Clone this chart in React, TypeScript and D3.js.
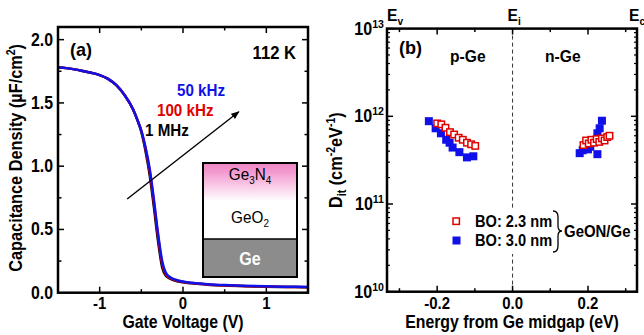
import * as d3 from "d3";

// ---- panel (a): C-V curves at 112 K ----
const voltage = [-1.5, -1.4, -1.3, -1.2, -1.1, -1.0, -0.9, -0.8, -0.7, -0.6, -0.55, -0.5, -0.45, -0.4, -0.35, -0.3, -0.25, -0.2, -0.15, -0.1, -0.05, 0, 0.1, 0.2, 0.3, 0.5, 0.7, 1.0, 1.25, 1.5];
const cap50k = [1.78, 1.775, 1.765, 1.752, 1.738, 1.72, 1.69, 1.64, 1.56, 1.45, 1.37, 1.28, 1.15, 0.98, 0.74, 0.47, 0.25, 0.15, 0.12, 0.105, 0.095, 0.088, 0.078, 0.072, 0.067, 0.06, 0.055, 0.05, 0.047, 0.045];
const cap100k = [1.78, 1.775, 1.765, 1.752, 1.738, 1.72, 1.69, 1.64, 1.56, 1.45, 1.37, 1.28, 1.14, 0.96, 0.72, 0.45, 0.23, 0.14, 0.115, 0.1, 0.092, 0.085, 0.076, 0.07, 0.065, 0.058, 0.053, 0.049, 0.046, 0.044];
const cap1M = [1.78, 1.775, 1.765, 1.752, 1.738, 1.72, 1.69, 1.64, 1.56, 1.45, 1.37, 1.27, 1.12, 0.93, 0.68, 0.41, 0.2, 0.13, 0.11, 0.096, 0.088, 0.082, 0.074, 0.068, 0.063, 0.057, 0.052, 0.048, 0.045, 0.043];
const capTicks = [0, 0.5, 1.0, 1.5, 2.0];
const voltTicks = [-1, 0, 1];

// ---- panel (b): Dit vs energy ----
const eRed = [-0.2, -0.189, -0.178, -0.166, -0.155, -0.143, -0.132, -0.121, -0.11, -0.099, 0.188, 0.195, 0.202, 0.209, 0.216, 0.223, 0.23, 0.237, 0.244, 0.251, 0.257];
const ditRed = [8.3e11, 8.1e11, 7.4e11, 6.6e11, 6.2e11, 5.7e11, 5.4e11, 5.0e11, 4.8e11, 4.6e11, 4.7e11, 5.3e11, 4.9e11, 5.4e11, 5.0e11, 5.5e11, 5.1e11, 5.6e11, 5.3e11, 5.8e11, 6.0e11];
const eBlue = [-0.222, -0.204, -0.19, -0.176, -0.167, -0.159, -0.141, -0.121, -0.104, 0.178, 0.186, 0.193, 0.206, 0.215, 0.225, 0.231, 0.237, 0.225, 0.2];
const ditBlue = [8.8e11, 7.3e11, 6.4e11, 5.4e11, 5.0e11, 4.4e11, 3.9e11, 3.4e11, 3.5e11, 3.8e11, 4.1e11, 4.3e11, 4.5e11, 5.3e11, 6.4e11, 7.3e11, 8.9e11, 3.7e11, 4.2e11];
const energyTicks = [-0.2, 0.0, 0.2];
const ditDecades = [1e10, 1e11, 1e12, 1e13];

const FONT = "'Liberation Sans', Arial, sans-serif";
const BLUE = "#1010e8";
const RED = "#e00000";

// the original's lettering is a narrow, tall sans: squeeze it horizontally
function T({ x, y, size, sx = 0.88, anchor = "start", rotate = 0, fill = "#000", weight = "bold", children }: any) {
  const rot = rotate ? ` rotate(${rotate})` : "";
  return (
    <text transform={`translate(${x},${y})${rot} scale(${sx},1)`} fontSize={size} textAnchor={anchor} fill={fill} fontWeight={weight}>
      {children}
    </text>
  );
}

export default function App() {
  // panel (a) scales
  const ax = d3.scaleLinear().domain([-1.5, 1.5]).range([58, 308]);
  const ay = d3.scaleLinear().domain([0, 2.1]).range([292.7, 27]);
  // panel (b) scales
  const bx = d3.scaleLinear().domain([-0.333, 0.33]).range([387, 637]);
  const by = d3.scaleLog().domain([1e10, 1e13]).range([291.7, 28.6]);

  const line = d3
    .line<number>()
    .x((_, i) => ax(voltage[i]))
    .y((d) => ay(d))
    .curve(d3.curveMonotoneX);

  const [aL, aR] = ax.range();
  const [aB, aT] = ay.range();
  const [bL, bR] = bx.range();
  const [bB, bT] = by.range();

  const aMinorX = d3.range(-1.5, 1.51, 0.5);
  const aMinorY = d3.range(0.25, 2.1, 0.25);
  const bMinorX = d3.range(-0.3, 0.31, 0.1);
  const bMinorY: number[] = [];
  [1e10, 1e11, 1e12].forEach((d) => {
    for (let k = 2; k <= 9; k++) bMinorY.push(d * k);
  });

  return (
    <svg width={644} height={335} style={{ position: "absolute", left: 0, top: 0 }} fontFamily={FONT} fontWeight="bold">
      <defs>
        <linearGradient id="pinkfade" x1="0" y1="0" x2="0" y2="1">
          <stop offset="0" stopColor="#ee86c4" />
          <stop offset="0.12" stopColor="#f39ad0" />
          <stop offset="0.5" stopColor="#ffffff" />
          <stop offset="1" stopColor="#ffffff" />
        </linearGradient>
        <marker id="arrowhead" viewBox="0 0 10 10" refX="9" refY="5" markerWidth="6" markerHeight="6" orient="auto">
          <path d="M0,1 L10,5 L0,9 Z" fill="#000" />
        </marker>
      </defs>

      {/* ================= panel (a) ================= */}
      {aMinorX.map((v) => {
        const major = voltTicks.some((t) => Math.abs(t - v) < 1e-6);
        const len = major ? 6 : 3.5;
        return (
          <g key={"ax" + v} stroke="#000" strokeWidth={1.5}>
            <line x1={ax(v)} x2={ax(v)} y1={aB} y2={aB - len} />
            <line x1={ax(v)} x2={ax(v)} y1={aT} y2={aT + len} />
          </g>
        );
      })}
      {aMinorY.map((v) => {
        const major = capTicks.some((t) => Math.abs(t - v) < 1e-6);
        const len = major ? 6 : 3.5;
        return (
          <g key={"ay" + v} stroke="#000" strokeWidth={1.5}>
            <line x1={aL} x2={aL + len} y1={ay(v)} y2={ay(v)} />
            <line x1={aR} x2={aR - len} y1={ay(v)} y2={ay(v)} />
          </g>
        );
      })}
      {voltTicks.map((t) => (
        <T key={"vt" + t} x={ax(t)} y={309} size={17} anchor="middle">
          {t}
        </T>
      ))}
      {capTicks.map((t) => (
        <T key={"ct" + t} x={53} y={ay(t) + 6} size={18} anchor="end">
          {t.toFixed(1)}
        </T>
      ))}
      <T x={(aL + aR) / 2} y={328} size={18} anchor="middle">
        Gate Voltage (V)
      </T>
      <T x={22} y={(aT + aB) / 2 - 2} size={18.5} anchor="middle" rotate={-90}>
        Capacitance Density (µF/cm<tspan dy={-7} fontSize={12}>2</tspan>
        <tspan dy={7}>)</tspan>
      </T>

      {/* curves */}
      <path d={line(cap1M) ?? ""} fill="none" stroke="#000" strokeWidth={2.5} />
      <path d={line(cap100k) ?? ""} fill="none" stroke={RED} strokeWidth={2.5} />
      <path d={line(cap50k) ?? ""} fill="none" stroke={BLUE} strokeWidth={2.5} />

      {/* arrow */}
      <line x1={ax(-0.67)} y1={ay(0.74)} x2={ax(0.67)} y2={ay(1.43)} stroke="#000" strokeWidth={1.4} markerEnd="url(#arrowhead)" />

      <T x={177} y={96} size={16.5} sx={0.92} fill={BLUE}>50 kHz</T>
      <T x={157} y={116} size={16.5} sx={0.92} fill={RED}>100 kHz</T>
      <T x={145} y={136} size={16.5} sx={0.92}>1 MHz</T>
      <T x={70} y={56} size={19} sx={0.95}>(a)</T>
      <T x={296} y={59} size={17.5} sx={0.95} anchor="end">112 K</T>

      {/* inset stack */}
      <rect x={203} y={163} width={94} height={76} fill="url(#pinkfade)" />
      <rect x={203} y={239} width={94} height={38} fill="#8c8c8c" />
      <rect x={203} y={163} width={94} height={114} fill="none" stroke="#000" strokeWidth={2} />
      <line x1={203} x2={297} y1={239} y2={239} stroke="#000" strokeWidth={1.5} />
      <T x={250} y={180} size={17} sx={0.9} anchor="middle" weight="normal">
        Ge<tspan dy={4} fontSize={11}>3</tspan>
        <tspan dy={-4}>N</tspan>
        <tspan dy={4} fontSize={11}>4</tspan>
      </T>
      <T x={250} y={223} size={17} sx={0.9} anchor="middle" weight="normal">
        GeO<tspan dy={4} fontSize={11}>2</tspan>
      </T>
      <T x={250} y={265} size={17.5} sx={0.92} anchor="middle" fill="#fff">Ge</T>

      <rect x={aL} y={aT} width={aR - aL} height={aB - aT} fill="none" stroke="#000" strokeWidth={2.5} />

      {/* ================= panel (b) ================= */}
      <line x1={bx(0)} x2={bx(0)} y1={bT} y2={bB} stroke="#333" strokeWidth={1} strokeDasharray="4,3" />

      {bMinorX.map((v) => {
        const major = energyTicks.some((t) => Math.abs(t - v) < 1e-6);
        const len = major ? 6 : 3.5;
        return (
          <g key={"bx" + v} stroke="#000" strokeWidth={1.5}>
            <line x1={bx(v)} x2={bx(v)} y1={bB} y2={bB - len} />
            <line x1={bx(v)} x2={bx(v)} y1={bT} y2={bT + len} />
          </g>
        );
      })}
      {ditDecades.map((v) => (
        <g key={"bd" + v} stroke="#000" strokeWidth={1.5}>
          <line x1={bL} x2={bL + 6} y1={by(v)} y2={by(v)} />
          <line x1={bR} x2={bR - 6} y1={by(v)} y2={by(v)} />
        </g>
      ))}
      {bMinorY.map((v) => (
        <g key={"bm" + v} stroke="#000" strokeWidth={1.2}>
          <line x1={bL} x2={bL + 3} y1={by(v)} y2={by(v)} />
          <line x1={bR} x2={bR - 3} y1={by(v)} y2={by(v)} />
        </g>
      ))}
      {energyTicks.map((t) => (
        <T key={"et" + t} x={bx(t)} y={309} size={17} anchor="middle">
          {t.toFixed(1)}
        </T>
      ))}
      {ditDecades.map((t) => (
        <T key={"dt" + t} x={384} y={by(t) + 6} size={17.5} sx={0.92} anchor="end">
          10<tspan dy={-7} fontSize={11.5}>{Math.round(Math.log10(t))}</tspan>
        </T>
      ))}
      <T x={(bL + bR) / 2} y={328} size={18} anchor="middle">
        Energy from Ge midgap (eV)
      </T>
      <T x={342} y={(bT + bB) / 2} size={18.5} anchor="middle" rotate={-90}>
        D<tspan dy={4} fontSize={12}>it</tspan>
        <tspan dy={-4}> (cm</tspan>
        <tspan dy={-7} fontSize={12}>-2</tspan>
        <tspan dy={7}>eV</tspan>
        <tspan dy={-7} fontSize={12}>-1</tspan>
        <tspan dy={7}>)</tspan>
      </T>

      {/* band-edge labels */}
      <T x={bx(-0.333)} y={21} size={17} sx={0.92}>
        E<tspan dy={4} fontSize={11}>v</tspan>
      </T>
      <T x={bx(0) - 5} y={21} size={17} sx={0.92}>
        E<tspan dy={4} fontSize={11}>i</tspan>
      </T>
      <T x={bx(0.33) - 8} y={21} size={17} sx={0.92}>
        E<tspan dy={4} fontSize={11}>c</tspan>
      </T>

      {/* data */}
      {eBlue.map((e, i) => (
        <rect key={"b" + i} x={bx(e) - 4} y={by(ditBlue[i]) - 4} width={8} height={8} fill={BLUE} />
      ))}
      {eRed.map((e, i) => (
        <rect key={"r" + i} x={bx(e) - 3.2} y={by(ditRed[i]) - 3.2} width={6.4} height={6.4} fill="#fff" stroke={RED} strokeWidth={1.5} />
      ))}

      <T x={399} y={54} size={19} sx={0.95}>(b)</T>
      <T x={450} y={62} size={17} sx={0.92}>p-Ge</T>
      <T x={545} y={62} size={17} sx={0.92}>n-Ge</T>

      {/* legend (blanks the dashed midgap line behind it) */}
      <rect x={bx(0) - 4} y={209} width={8} height={45} fill="#fff" />
      <rect x={453} y={218} width={6.4} height={6.4} fill="#fff" stroke={RED} strokeWidth={1.5} />
      <rect x={452.5} y={236.5} width={8} height={8} fill={BLUE} />
      <T x={475} y={227} size={17} sx={0.86}>BO: 2.3 nm</T>
      <T x={475} y={246} size={17} sx={0.86}>BO: 3.0 nm</T>
      <path d="M553,211 Q558,211 558,217 L558,226 Q558,231 562,231 Q558,231 558,236 L558,246 Q558,252 553,252" fill="none" stroke="#000" strokeWidth={1.3} />
      <T x={564} y={237} size={17} sx={0.88}>GeON/Ge</T>

      <rect x={bL} y={bT} width={bR - bL} height={bB - bT} fill="none" stroke="#000" strokeWidth={2.5} />
    </svg>
  );
}
